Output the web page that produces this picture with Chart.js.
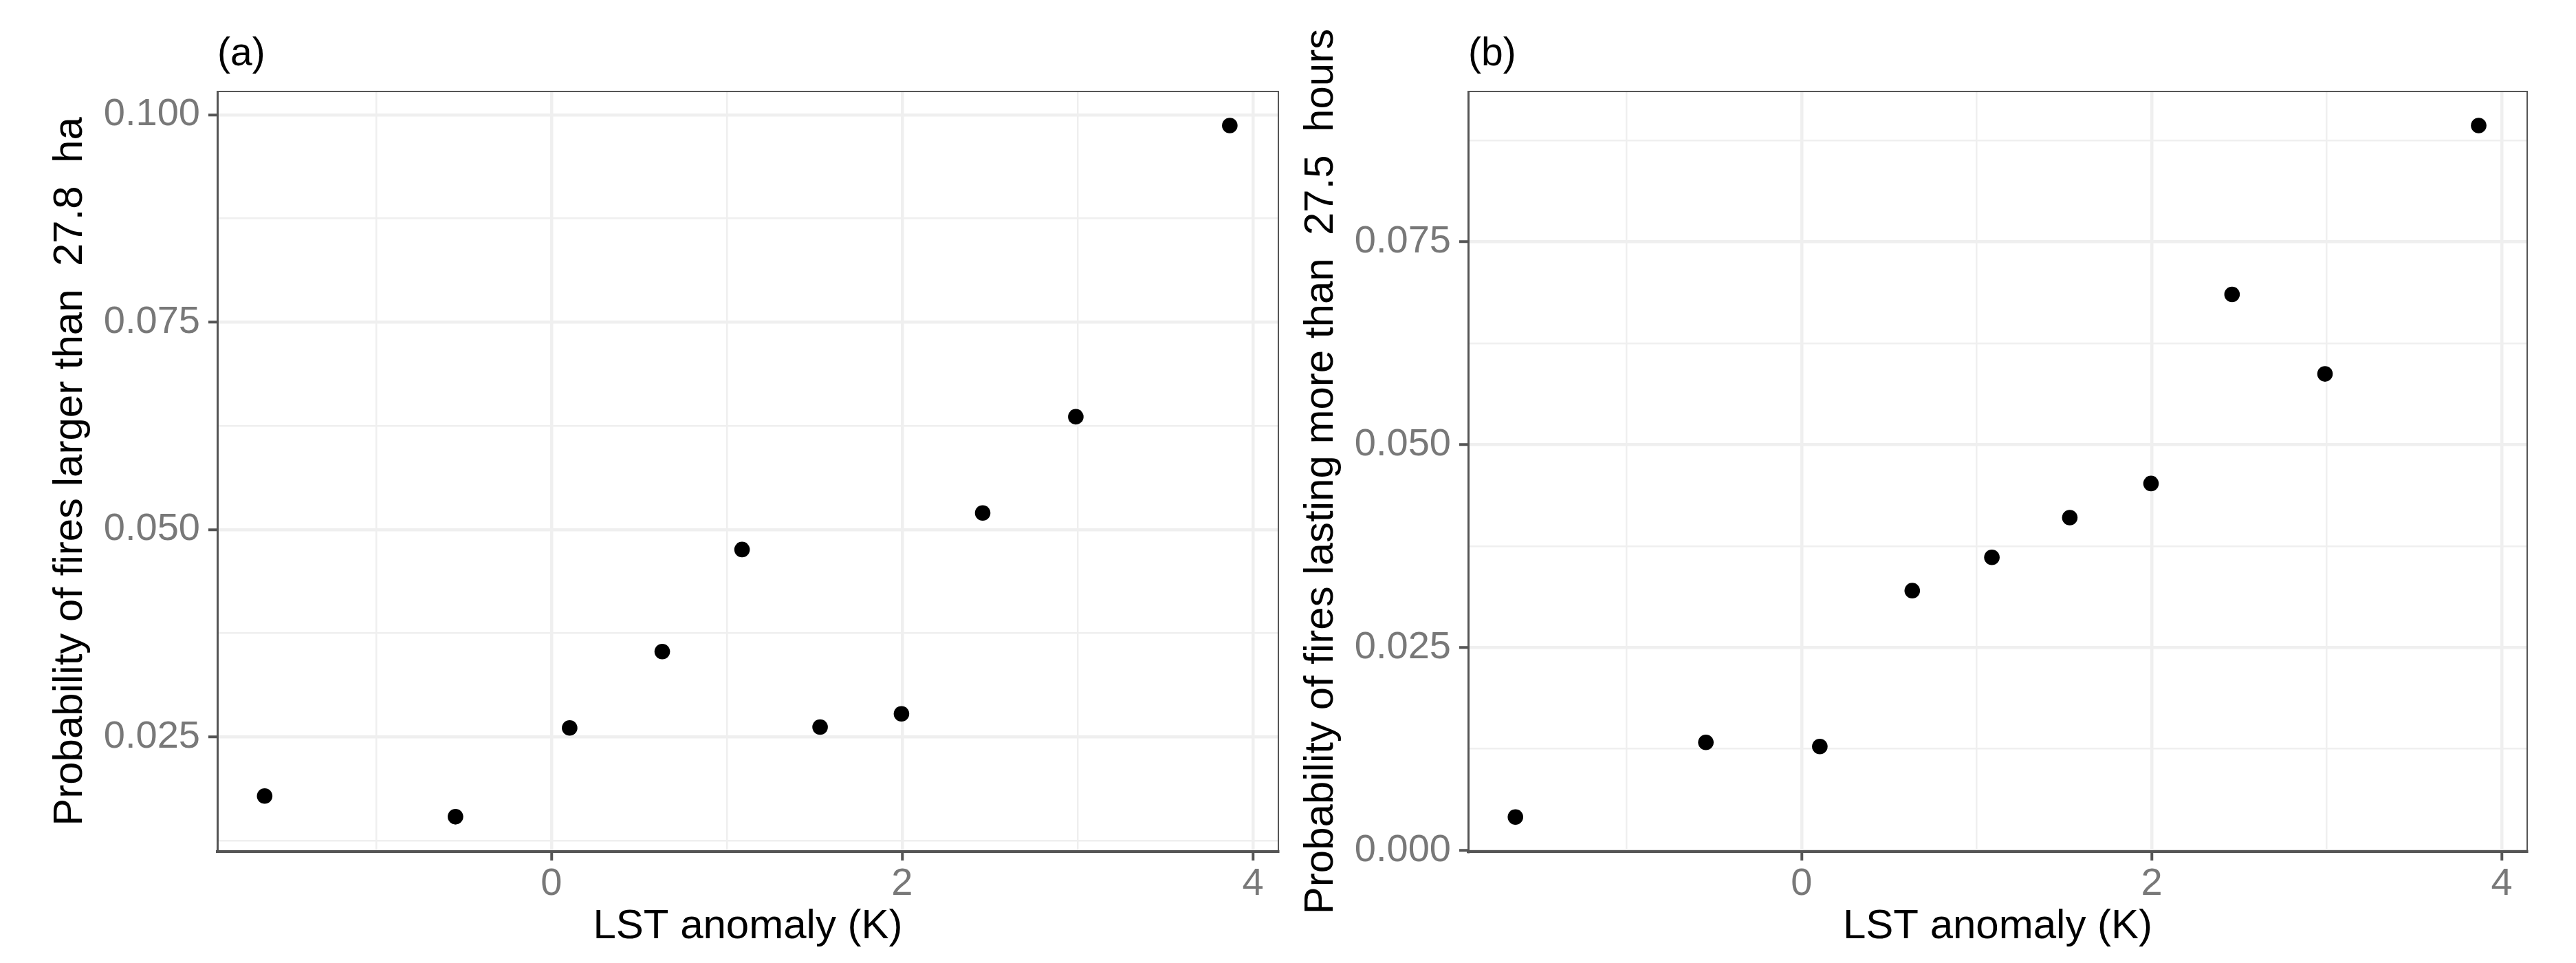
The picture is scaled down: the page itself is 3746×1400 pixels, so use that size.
<!DOCTYPE html>
<html><head><meta charset="utf-8">
<script src="https://cdn.jsdelivr.net/npm/chart.js@4.4.0/dist/chart.umd.min.js"></script>
<style>
html,body{margin:0;padding:0;background:#fff;}
#wrap{position:relative;width:3746px;height:1400px;background:#fff;}
canvas{position:absolute;top:0;}
#ca{left:0}
#cb{left:1873px}
</style></head><body>
<div id="wrap"><canvas id="ca" width="1873" height="1400"></canvas><canvas id="cb" width="1873" height="1400"></canvas></div>
<script>
// ---- data ----
const lstAnomaly = [-1.635, -0.547, 0.104, 0.632, 1.087, 1.532, 1.996, 2.459, 2.99, 3.868];
const probLargerA = [0.0179, 0.0154, 0.0261, 0.0353, 0.0476, 0.0262, 0.0278, 0.0520, 0.0636, 0.0987];
const probLastingB = [0.0041, 0.0133, 0.0128, 0.0320, 0.0361, 0.0410, 0.0452, 0.0685, 0.0587, 0.0893];
const xTickValues = [-1, 0, 1, 2, 3, 4];
const xTickLabels = ['', '0', '', '2', '', '4'];
const yTickValuesA = [0.0125, 0.025, 0.0375, 0.05, 0.0625, 0.075, 0.0875, 0.1];
const yTickLabelsA = ['', '0.025', '', '0.050', '', '0.075', '', '0.100'];
const yTickValuesB = [0, 0.0125, 0.025, 0.0375, 0.05, 0.0625, 0.075, 0.0875];
const yTickLabelsB = ['0.000', '', '0.025', '', '0.050', '', '0.075', ''];
const panelTitles = ['(a)', '(b)'];
const xTitle = 'LST anomaly (K)';
const yTitleA = 'Probability of fires larger than  27.8  ha';
const yTitleB = 'Probability of fires lasting more than  27.5  hours';

// ---- styling ----
const FONT = "'Liberation Sans', Arial, sans-serif";
const AXIS_COL = '#555555';
const GRID_COL = '#efefef';
const TICK_COL = '#787878';

class WideTitleLinear extends Chart.LinearScale {
  drawTitle() {
    const t = this.top, b = this.bottom, h = this.chart.height, c = (t + b) / 2;
    this.top = c - h / 2; this.bottom = c + h / 2;
    super.drawTitle();
    this.top = t; this.bottom = b;
  }
}
WideTitleLinear.id = 'wideTitleLinear';
WideTitleLinear.defaults = Chart.LinearScale.defaults;
Chart.register(WideTitleLinear);

const framePlugin = {
  id: 'frame',
  afterDraw(chart) {
    const {ctx, chartArea: a} = chart;
    ctx.save();
    ctx.strokeStyle = AXIS_COL;
    ctx.lineWidth = 2;
    ctx.strokeRect(a.left, a.top, a.right - a.left, a.bottom - a.top);
    ctx.restore();
  }
};

function gridOpts(labels, borderW) {
  return {
    color: GRID_COL,
    lineWidth: (c) => (labels[c.index] !== '' ? 4.5 : 2.5),
    drawTicks: true,
    tickLength: 13,
    tickColor: (c) => (labels[c.index] !== '' ? AXIS_COL : 'rgba(0,0,0,0)'),
    tickWidth: 4
  };
}

function makeChart(id, yVals, yMin, yMax, yTicks, yLabels, yTitle, title, yWidth, yTitlePad, padRight) {
  const pts = lstAnomaly.map((x, i) => ({x: x, y: yVals[i]}));
  return new Chart(document.getElementById(id), {
    type: 'scatter',
    data: {datasets: [{data: pts, backgroundColor: '#000', borderWidth: 0, pointRadius: 11.3, pointHoverRadius: 11.3}]},
    options: {
      responsive: false,
      animation: false,
      devicePixelRatio: 1,
      layout: {padding: {left: 0, right: padRight, top: 0, bottom: 0}},
      plugins: {
        legend: {display: false},
        tooltip: {enabled: false},
        title: {
          display: true, text: title, align: 'start', fullSize: false, color: '#000',
          font: {family: FONT, size: 57, weight: 'normal', lineHeight: 1.2},
          padding: {top: 45.5, bottom: 19.1}
        }
      },
      scales: {
        x: {
          type: 'linear', min: -1.905, max: 4.145,
          afterBuildTicks: (s) => { s.ticks = xTickValues.map(v => ({value: v})); },
          afterFit: (s) => { s.height = 162; },
          ticks: {autoSkip: false, maxRotation: 0, padding: 1, color: TICK_COL,
                  font: {family: FONT, size: 56}, callback: (v, i) => xTickLabels[i]},
          grid: gridOpts(xTickLabels),
          border: {display: true, color: AXIS_COL, width: 4},
          title: {display: true, text: xTitle, color: '#000',
                  font: {family: FONT, size: 60, lineHeight: 1.2}, padding: {top: 0, bottom: 16.8}}
        },
        y: {
          type: 'wideTitleLinear', min: yMin, max: yMax,
          afterBuildTicks: (s) => { s.ticks = yTicks.map(v => ({value: v})); },
          afterFit: (s) => { s.width = yWidth; },
          ticks: {autoSkip: false, padding: 12, color: TICK_COL,
                  font: {family: FONT, size: 56}, callback: (v, i) => yLabels[i]},
          grid: gridOpts(yLabels),
          border: {display: true, color: AXIS_COL, width: 3},
          title: {display: true, text: yTitle, color: '#000',
                  font: {family: FONT, size: 60, lineHeight: 1.2}, padding: {top: yTitlePad, bottom: 0}}
        }
      }
    },
    plugins: [framePlugin]
  });
}

makeChart('ca', probLargerA, 0.0112, 0.1028, yTickValuesA, yTickLabelsA, yTitleA, panelTitles[0], 316, 66.5, 14);
makeChart('cb', probLastingB, -0.00015, 0.0935, yTickValuesB, yTickLabelsB, yTitleB, panelTitles[1], 262, 12.9, 71);
</script>
</body></html>
